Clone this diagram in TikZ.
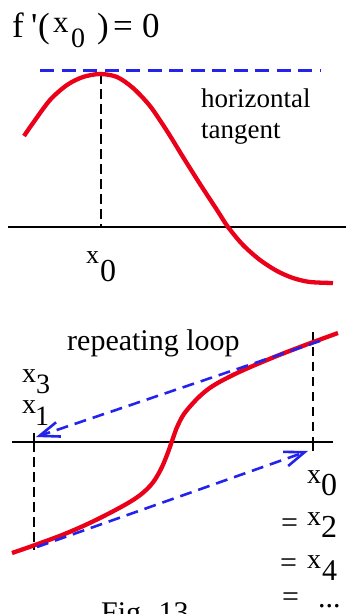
\documentclass[tikz,border=0pt]{standalone}
\usepackage{fontspec}
\setmainfont{Liberation Serif}
\usetikzlibrary{arrows.meta}
\definecolor{cred}{RGB}{235,0,25}
\definecolor{cblue}{RGB}{35,35,235}
\newcommand{\fsz}[1]{\fontsize{#1}{#1}\selectfont}
\begin{document}
\begin{tikzpicture}[x=1pt,y=-1pt,
  redcurve/.style={draw=cred, line width=4.3pt},
  tangentline/.style={draw=cblue, line width=3pt, dash pattern=on 14pt off 7.5pt},
  bluearrow/.style={draw=cblue, line width=2.6pt, dash pattern=on 12pt off 7pt,
     -{Straight Barb[length=20pt,width=15pt]}},
  axisline/.style={draw=black, line width=1.4pt},
  guide/.style={draw=black, line width=1.3pt, dash pattern=on 10pt off 5pt},
  lbl/.style={inner sep=0pt, anchor=base west, text=black},
  sz35/.style={font=\fsz{35}},
  sz32/.style={font=\fsz{32}},
  sz31/.style={font=\fsz{31}},
  sz30/.style={font=\fsz{30}},
  sz29/.style={font=\fsz{29}},
  sz28/.style={font=\fsz{28}},
  sz27/.style={font=\fsz{27}},
  sz26/.style={font=\fsz{26}},
]
\useasboundingbox (0,0) rectangle (346,614);
\clip (0,0) rectangle (346,614);

% ---------- top panel ----------
\node[lbl,sz35] (tf) at (12,37) {f};
\node[lbl,sz35] (tq) at (31,37) {\textquotesingle};
\node[lbl,sz35] (tlp) at (38,37) {(};
\node[lbl,sz31] (tx) at (53,32) {x};
\node[lbl,sz28] (tsub) at (71,47) {0};
\node[lbl,sz35] (trp) at (97,37) {)};
\node[lbl,sz35] (teq) at (113,37) {=};
\node[lbl,sz35] (tz) at (142,37) {0};

\coordinate (tl) at (40,70);
\coordinate (tr) at (320,70);
\coordinate (peak) at (101,74);
\coordinate (pfoot) at (101,227);
\coordinate (axL) at (8,227);
\coordinate (axR) at (346,227);

\draw[axisline] (axL) -- (axR);
\draw[guide] (peak) -- (pfoot);
\draw[redcurve] plot[smooth, tension=0.5] coordinates {(24,136) (33,123) (50,100) (67,85) (83,77) (100,74) (117,77) (133,88) (150,106) (167,131) (183,157) (200,184) (217,210) (228,227) (243,245) (260,260) (277,271) (293,278) (310,282) (333,283)};
\draw[tangentline] (tl) -- (tr);

\node[lbl,sz27] (hz) at (201,107) {horizontal};
\node[lbl,sz27] (tg) at (201,138) {tangent};

\node[lbl,sz26] (ax) at (86,263) {x};
\node[lbl,sz32] (a0) at (100,281) {0};

% ---------- bottom panel ----------
\node[lbl,sz30] (rl) at (67,350) {repeating loop};

\coordinate (bL) at (12,442);
\coordinate (bR) at (333,442);
\draw[axisline] (bL) -- (bR);

\coordinate (x1top) at (34,433);
\coordinate (x1ax) at (34,442);
\coordinate (x1bot) at (34,550);
\draw[axisline, line width=1.3pt] (x1top) -- (x1ax);
\draw[guide] (x1ax) -- (x1bot);

\coordinate (x0top) at (313,332);
\coordinate (x0mid) at (313,432);
\coordinate (x0t1) at (313,437);
\coordinate (x0t2) at (313,451);
\draw[guide, dash pattern=on 9pt off 6pt] (x0top) -- (x0mid);
\draw[axisline, line width=1.3pt] (x0t1) -- (x0t2);

\draw[redcurve] plot[smooth, tension=0.6] coordinates {(12,553) (35,545) (67,533) (100,518) (133,500) (150,486) (160,471) (167,455) (172,441) (178,425) (187,410) (207,390) (233,375) (267,360) (300,347) (338,333)};

\coordinate (u0) at (320,341);
\coordinate (u1) at (36,437);
\coordinate (l0) at (37,547);
\coordinate (l1) at (308,451);
\draw[bluearrow] (u0) -- (u1);
\draw[bluearrow] (l0) -- (l1);

\node[lbl,sz28] (x3x) at (22,382) {x};
\node[lbl,sz28] (x3n) at (36,393) {3};
\node[lbl,sz28] (x1x) at (22,413) {x};
\node[lbl,sz28] (x1n) at (35,425) {1};

\node[lbl,sz28] (r0x) at (307,483) {x};
\node[lbl,sz32] (r0n) at (321,495) {0};
\node[lbl,sz30] (e2) at (281,532) {=};
\node[lbl,sz28] (r2x) at (307,525) {x};
\node[lbl,sz32] (r2n) at (321,537) {2};
\node[lbl,sz30] (e4) at (280,572) {=};
\node[lbl,sz28] (r4x) at (307,568) {x};
\node[lbl,sz30] (r4n) at (322,580) {4};
\node[lbl,sz30] (e6) at (282,606) {=};
\node[lbl,sz30] (dots) at (318,607) {...};

\node[lbl,sz30] (fig) at (101,622) {Fig. 13};
\end{tikzpicture}
\end{document}
